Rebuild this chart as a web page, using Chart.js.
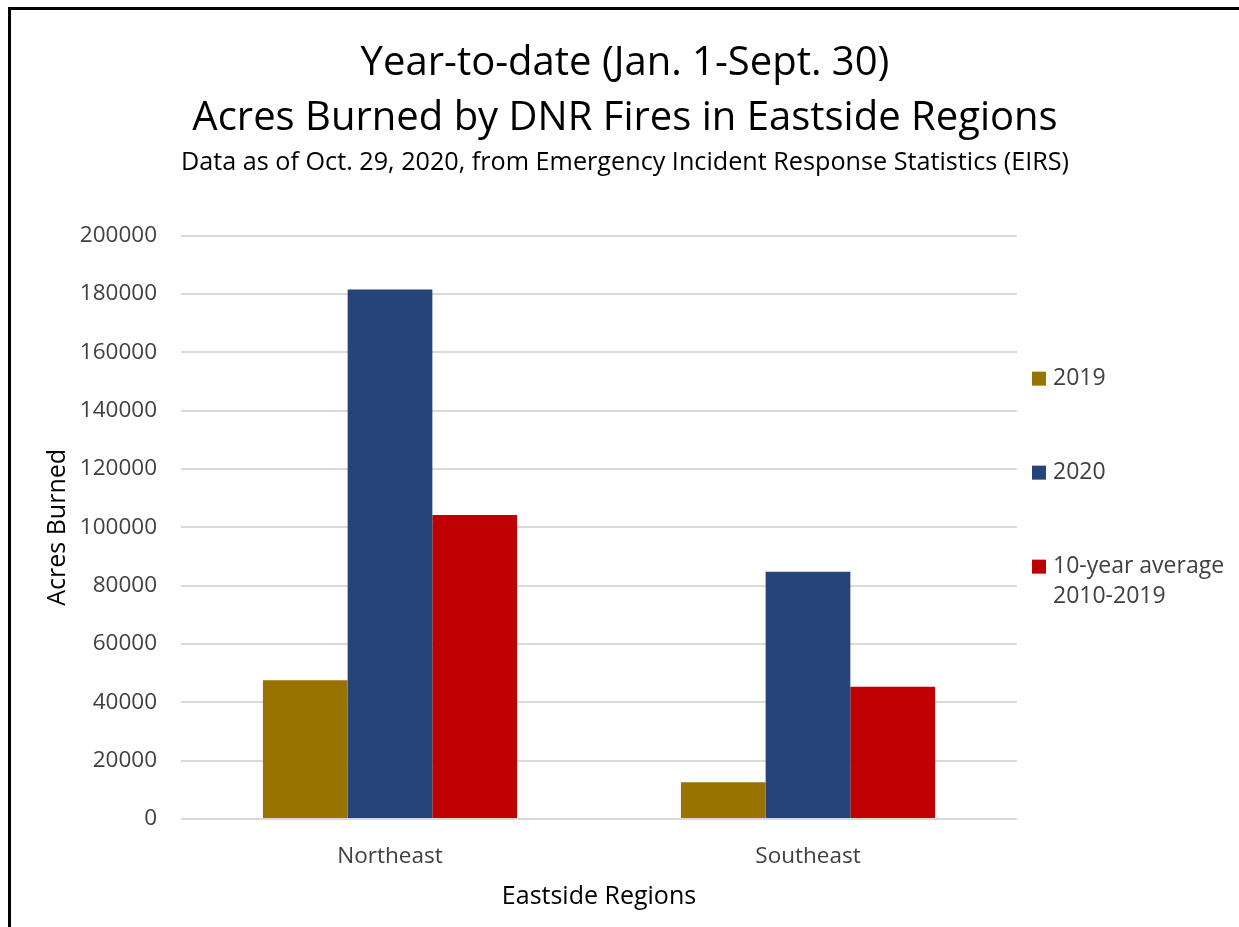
<!DOCTYPE html>
<html>
<head>
<meta charset="utf-8">
<title>Acres Burned by DNR Fires in Eastside Regions</title>
<script src="https://cdn.jsdelivr.net/npm/chart.js@4.4.0/dist/chart.umd.min.js"></script>
<style>
  html, body { margin: 0; padding: 0; background: #fff; overflow: hidden; width: 1239px; height: 927px; }
  .edge { position: absolute; background: #000; }
  #edgeTop { left: 8px; top: 7px; width: 1231px; height: 3px; }
  #edgeLeft { left: 8px; top: 7px; width: 3px; height: 920px; }
  #chartBox { position: absolute; left: 11px; top: 10px; width: 1228px; height: 917px; }
</style>
</head>
<body>
<div class="edge" id="edgeTop"></div>
<div class="edge" id="edgeLeft"></div>
<div id="chartBox"><canvas id="acresChart"></canvas></div>
<script>
// Datos
const regions = ['Northeast', 'Southeast'];
const seriesLabels = ['2019', '2020', '10-year average\n2010-2019'];
const acres2019 = [47600, 12600];
const acres2020 = [181500, 84800];
const acresAvg = [104200, 45300];
const seriesColors = ['#997300', '#264478', '#C00000'];
const yMin = 0;
const yMax = 200000;
const yStep = 20000;

const FONT = '"Open Sans", "Noto Sans", sans-serif';
const TEXT_COLOR = '#404040';

// Leyenda a la derecha, dibujada en el hueco del eje "legendSpace"
const sideLegend = {
    id: 'sideLegend',
    afterDraw(chart) {
        const { ctx, chartArea } = chart;
        ctx.save();
        ctx.font = '23px ' + FONT;
        ctx.textBaseline = 'middle';
        ctx.textAlign = 'left';
        let y = chartArea.top + 143;
        chart.data.datasets.forEach(ds => {
            ctx.fillStyle = ds.backgroundColor;
            ctx.fillRect(chartArea.right + 15, y - 7, 14, 14);
            ctx.fillStyle = TEXT_COLOR;
            ds.label.split('\n').forEach((line, i) => {
                ctx.fillText(line, chartArea.right + 36, y + i * 30);
            });
            y += 94;
        });
        ctx.restore();
    }
};

const datasets = [acres2019, acres2020, acresAvg].map((values, i) => ({
    label: seriesLabels[i],
    data: values,
    backgroundColor: seriesColors[i],
    borderWidth: 0,
}));

const ctx = document.getElementById('acresChart').getContext('2d');
new Chart(ctx, {
    type: 'bar',
    data: { labels: regions, datasets: datasets },
    options: {
        responsive: true,
        maintainAspectRatio: false,
        animation: false,
        layout: { padding: 0 },
        datasets: { bar: { categoryPercentage: 0.608, barPercentage: 1 } },
        plugins: {
            legend: { display: false },
            tooltip: { enabled: false },
            title: {
                display: true,
                text: ['Year-to-date (Jan. 1-Sept. 30)', 'Acres Burned by DNR Fires in Eastside Regions'],
                color: '#000',
                font: { family: FONT, size: 40, weight: 'normal', lineHeight: 1.38 },
                padding: { top: 26, bottom: 1 },
            },
            subtitle: {
                display: true,
                text: 'Data as of Oct. 29, 2020, from Emergency Incident Response Statistics (EIRS)',
                color: '#000',
                font: { family: FONT, size: 25.2, weight: 'normal', lineHeight: 1.2 },
                padding: { top: 0, bottom: 58 },
            },
        },
        scales: {
            x: {
                grid: { display: false },
                border: { display: false },
                ticks: { color: TEXT_COLOR, font: { family: FONT, size: 22.5 }, padding: 16, maxRotation: 0 },
                title: {
                    display: true,
                    text: 'Eastside Regions',
                    color: '#000',
                    font: { family: FONT, size: 25 },
                    padding: { top: 0, bottom: 15 },
                },
                afterFit: scale => { scale.height = 108; },
            },
            y: {
                min: yMin,
                max: yMax,
                grid: { color: '#d9d9d9', lineWidth: 2, drawTicks: false },
                border: { display: false },
                ticks: {
                    stepSize: yStep,
                    color: TEXT_COLOR,
                    font: { family: FONT, size: 22.5 },
                    padding: 24,
                    callback: value => String(value),
                },
                title: {
                    display: true,
                    text: 'Acres Burned',
                    color: '#000',
                    font: { family: FONT, size: 25 },
                    padding: { top: 32, bottom: 0 },
                },
                afterFit: scale => { scale.width = 170; },
            },
            // eje vacío: solo reserva el hueco de la leyenda
            legendSpace: {
                position: 'right',
                display: true,
                grid: { display: false },
                border: { display: false },
                ticks: { display: false },
                afterFit: scale => { scale.width = 222; },
            },
        },
    },
    plugins: [sideLegend],
});
</script>
</body>
</html>
